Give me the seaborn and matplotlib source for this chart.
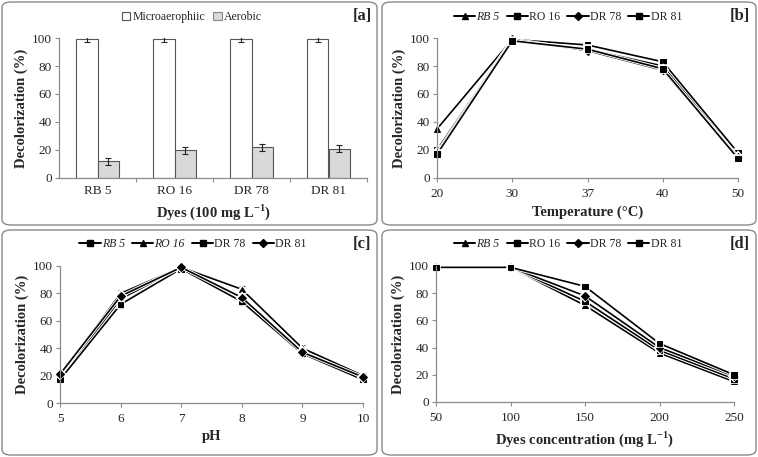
import seaborn as sns
import matplotlib.pyplot as plt
import matplotlib.patheffects as pe
from matplotlib.patches import FancyBboxPatch, Patch
from matplotlib.lines import Line2D
import pandas as pd

# ---- data ----
dyes = ["RB 5", "RO 16", "DR 78", "DR 81"]
micro_vals = [99, 99, 99, 99]
micro_err = [2, 2, 2, 2]
aerobic_vals = [12, 20, 22, 21]
aerobic_err = [2.5, 2.5, 2.5, 2.5]

temp_labels = ["20", "30", "37", "40", "50"]
temp_rb5 = [35, 99, 92, 80, 17]
temp_ro16 = [20, 99, 95, 83, 18]
temp_dr78 = [18, 99, 91, 77, 15]
temp_dr81 = [17, 98, 92, 78, 14]

ph_labels = ["5", "6", "7", "8", "9", "10"]
ph_rb5 = [18, 76, 99, 76, 38, 18]
ph_ro16 = [20, 80, 99, 83, 40, 20]
ph_dr78 = [17, 72, 98, 74, 36, 17]
ph_dr81 = [21, 78, 99, 77, 37, 19]
ph_err = [2, 2.5, 1.5, 2.5, 2.5, 2]

conc_labels = ["50", "100", "150", "200", "250"]
conc_rb5 = [99, 99, 71, 36, 15]
conc_ro16 = [99, 99, 74, 38, 17]
conc_dr78 = [99, 99, 78, 40, 19]
conc_dr81 = [99, 99, 85, 43, 20]

sns.set_theme(style="white")
SERIF = ['Liberation Serif', 'DejaVu Serif']
plt.rcParams['font.family'] = SERIF
plt.rcParams['mathtext.fontset'] = 'custom'
plt.rcParams['mathtext.rm'] = 'Liberation Serif'
plt.rcParams['mathtext.bf'] = 'Liberation Serif:bold'

W, H = 758, 457
fig = plt.figure(figsize=(W / 100, H / 100), dpi=100)

TXT = '#262626'
SPINE = '#8c8c8c'
TICK_FS = 9.5
LAB_FS = 10.5
LEG_FS = 8.5


def px(x0, y0, x1, y1):
    # pixel box (top-left origin) -> figure rect
    return [x0 / W, 1 - y1 / H, (x1 - x0) / W, (y1 - y0) / H]


# rounded panel frames
for (x0, y0, x1, y1) in [(2, 2, 377, 225), (382, 2, 756, 225),
                         (2, 230, 377, 455), (382, 230, 756, 455)]:
    fig.patches.append(FancyBboxPatch((x0 / W, 1 - y1 / H), (x1 - x0) / W, (y1 - y0) / H,
                                      boxstyle="round,pad=0,rounding_size=0.012",
                                      transform=fig.transFigure, fill=False,
                                      edgecolor='#8a8a8a', linewidth=1.0))


def style_axes(ax):
    for s in ['top', 'right']:
        ax.spines[s].set_visible(False)
    for s in ['left', 'bottom']:
        ax.spines[s].set_color(SPINE)
        ax.spines[s].set_linewidth(0.9)
    ax.set_ylim(0, 100)
    ax.set_yticks([0, 20, 40, 60, 80, 100])
    ax.tick_params(axis='both', which='both', direction='out', length=3, width=0.8,
                   color=SPINE, labelsize=TICK_FS, labelcolor=TXT, pad=2, left=True, bottom=True)
    ax.set_ylabel("Decolorization (%)", fontsize=LAB_FS, fontweight='bold', color=TXT, labelpad=3)


# ---- panel a: bars ----
ax_a = fig.add_axes(px(59, 38, 367, 178))
bar_df = pd.DataFrame({
    "dye": dyes * 2,
    "value": micro_vals + aerobic_vals,
    "cond": ["Microaerophiic"] * 4 + ["Aerobic"] * 4,
})
sns.barplot(data=bar_df, x="dye", y="value", hue="cond", order=dyes,
            hue_order=["Microaerophiic", "Aerobic"],
            palette=["white", "#d9d9d9"], width=0.57, errorbar=None,
            edgecolor="#555555", linewidth=0.8, ax=ax_a, legend=False)
for cont, errs in zip(ax_a.containers, [micro_err, aerobic_err]):
    for bar, e in zip(cont, errs):
        ax_a.errorbar(bar.get_x() + bar.get_width() / 2, bar.get_height(), yerr=e,
                      color='#222222', capsize=2.2, elinewidth=0.8, capthick=0.8)
style_axes(ax_a)
ax_a.set_xlim(-0.5, 3.5)
ax_a.set_xticks([0, 1, 2, 3])
ax_a.set_xticklabels(dyes)
ax_a.set_xticks([0.5, 1.5, 2.5, 3.5], minor=True)
ax_a.tick_params(axis='x', which='major', length=0, pad=5)
ax_a.tick_params(axis='x', which='minor', length=3, color=SPINE)
ax_a.set_xlabel(r"Dyes (100 mg L$^{\mathbf{-1}}$)", fontsize=LAB_FS, fontweight='bold', color=TXT, labelpad=4)
ax_a.legend(handles=[Patch(facecolor='white', edgecolor='#555555', linewidth=0.8, label='Microaerophiic'),
                     Patch(facecolor='#d9d9d9', edgecolor='#888888', linewidth=0.8, label='Aerobic')],
            loc='center', bbox_to_anchor=(192 / W, 1 - 17 / H), bbox_transform=fig.transFigure,
            ncol=2, frameon=False, prop={'family': SERIF, 'size': LEG_FS},
            handlelength=0.7, handleheight=0.7,
            handletextpad=0.2, columnspacing=0.7, labelcolor=TXT)


# ---- line panels ----
def line_panel(rect, labels, series, names, markers, italic, xlabel, legend_xy, err=None):
    ax = fig.add_axes(px(*rect))
    pos = list(range(len(labels)))
    rows = []
    for name, vals in zip(names, series):
        for p, v in zip(pos, vals):
            rows.append({"pos": p, "value": v, "series": name})
    df = pd.DataFrame(rows)
    if err is not None:
        for vals in series:
            ax.errorbar(pos, vals, yerr=err, fmt='none', ecolor='#444444',
                        elinewidth=0.8, capsize=2, capthick=0.8, zorder=1, clip_on=False)
    sns.lineplot(data=df, x="pos", y="value", hue="series", style="series",
                 hue_order=names, style_order=names, palette=['black'] * 4,
                 markers=dict(zip(names, markers)), dashes=False, markersize=4,
                 markeredgecolor='black', linewidth=1.2, ax=ax, legend=False)
    for ln in ax.lines:
        ln.set_clip_on(False)
        ln.set_path_effects([pe.Stroke(linewidth=2.6, foreground='white'), pe.Normal()])
    style_axes(ax)
    ax.set_xlim(0, len(labels) - 1)
    ax.set_xticks(pos)
    ax.set_xticklabels(labels)
    ax.tick_params(axis='x', pad=4)
    ax.set_xlabel(xlabel, fontsize=LAB_FS, fontweight='bold', color=TXT, labelpad=4)
    handles = [Line2D([], [], color='black', marker=m, markersize=4, linewidth=1.4, label=n)
               for n, m in zip(names, markers)]
    leg = ax.legend(handles=handles, loc='center',
                    bbox_to_anchor=(legend_xy[0] / W, 1 - legend_xy[1] / H),
                    bbox_transform=fig.transFigure, ncol=4, frameon=False,
                    prop={'family': SERIF, 'size': LEG_FS},
                    handlelength=1.8, handletextpad=0.1, columnspacing=0.6, labelcolor=TXT)
    for t, it in zip(leg.get_texts(), italic):
        if it:
            t.set_fontstyle('italic')
    return ax


line_panel((437, 38, 738, 178), temp_labels,
           [temp_rb5, temp_ro16, temp_dr78, temp_dr81], dyes,
           ['^', 's', 'D', 's'], [True, False, False, False],
           "Temperature (°C)", (568, 17))

line_panel((60, 266, 363, 403), ph_labels,
           [ph_rb5, ph_ro16, ph_dr78, ph_dr81], dyes,
           ['s', '^', 's', 'D'], [True, True, False, False],
           "pH", (193, 244), err=ph_err)

line_panel((436, 266, 734, 402), conc_labels,
           [conc_rb5, conc_ro16, conc_dr78, conc_dr81], dyes,
           ['^', 's', 'D', 's'], [True, False, False, False],
           r"Dyes concentration (mg L$^{\mathbf{-1}}$)", (568, 244))

# panel tags
for tag, (x, y) in zip(["[a]", "[b]", "[c]", "[d]"],
                       [(362, 16), (740, 16), (362, 244), (740, 244)]):
    fig.text(x / W, 1 - y / H, tag, fontsize=12, fontweight='bold', color=TXT,
             ha='center', va='center')

fig.savefig("out.png", dpi=100)
